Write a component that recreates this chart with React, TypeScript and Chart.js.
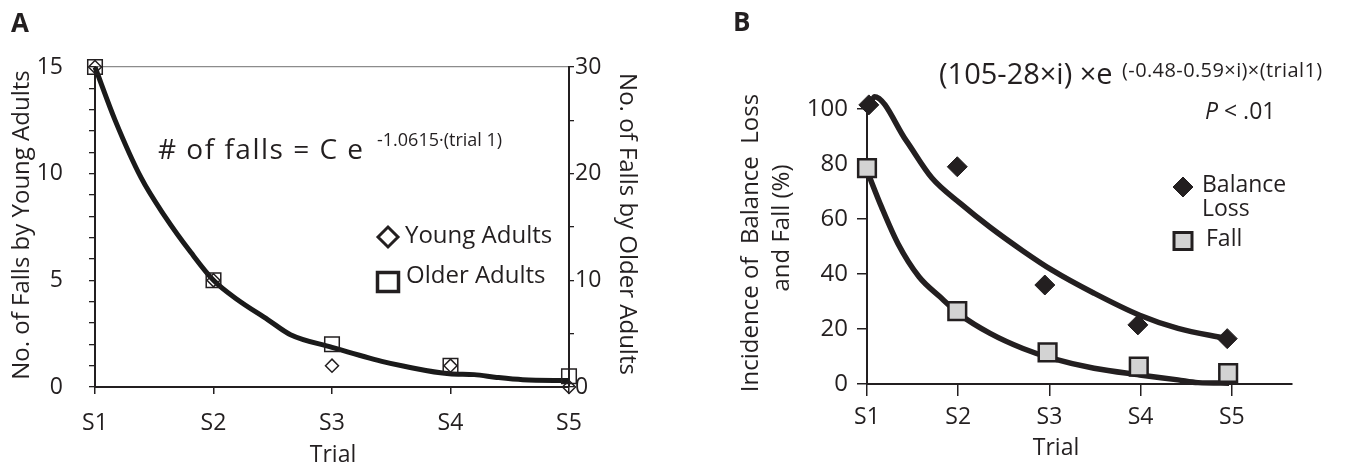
import React, { useEffect, useRef } from "react";
import { Chart, registerables } from "chart.js";
Chart.register(...registerables);

// ---------- data ----------
const trialLabels = ["S1", "S2", "S3", "S4", "S5"];
const trials = [1, 2, 3, 4, 5];

// Panel A
const youngFalls = [15, 5, 1, 1, 0];
const olderFalls = [30, 10, 4, 2, 1];
const fitATrial = [1, 1.17, 1.39, 1.59, 1.81, 2.0, 2.2, 2.46, 2.65, 3.0, 3.42, 3.61, 3.99, 4.2, 4.39, 4.61, 5];
const fitAValue = [15, 12.5, 9.8, 8.0, 6.3, 5.0, 4.1, 3.15, 2.45, 1.86, 1.2, 0.97, 0.62, 0.58, 0.45, 0.34, 0.3];

// Panel B
const balanceTrial = [1.02, 1.99, 2.95, 3.97, 4.95];
const balanceLoss = [101.5, 79, 36, 21.5, 16.5];
const fallTrial = [1.0, 1.99, 2.98, 3.98, 4.96];
const fallPct = [78.5, 26.5, 11.5, 6.3, 4];
const fitBalanceTrial = [1.03, 1.08, 1.43, 1.71, 2.03, 2.35, 2.71, 3.03, 3.49, 3.99, 4.41, 4.93];
const fitBalanceValue = [101, 104.5, 88.5, 75, 65.5, 57, 48.4, 41.4, 33, 25, 20.2, 16.6];
const fitFallTrial = [1, 1.16, 1.34, 1.57, 1.8, 2.03, 2.35, 2.71, 3.03, 3.49, 3.99, 4.41, 4.63, 4.97];
const fitFallValue = [77.6, 64.3, 51, 39, 31.7, 25, 18.4, 12.9, 9.3, 5.7, 3.3, 1.5, 0.5, 0.3];

const INK = "#231f20";
const FONT = "'Open Sans', sans-serif";

const pts = (xs: number[], ys: number[]) => xs.map((x, i) => ({ x, y: ys[i] }));

function text(ctx: CanvasRenderingContext2D, s: string, x: number, y: number, font: string, align: CanvasTextAlign = "left", angle = 0, spacing = 0) {
  ctx.save();
  ctx.translate(x, y);
  ctx.rotate(angle);
  ctx.font = font;
  (ctx as any).letterSpacing = spacing + "px";
  ctx.fillStyle = INK;
  ctx.textAlign = align;
  ctx.textBaseline = "middle";
  ctx.fillText(s, 0, 0);
  ctx.restore();
}

function diamond(ctx: CanvasRenderingContext2D, x: number, y: number, r: number, fill: string | null, lw: number) {
  ctx.save();
  ctx.beginPath();
  ctx.moveTo(x - r, y);
  ctx.lineTo(x, y - r);
  ctx.lineTo(x + r, y);
  ctx.lineTo(x, y + r);
  ctx.closePath();
  if (fill) { ctx.fillStyle = fill; ctx.fill(); }
  ctx.lineWidth = lw;
  ctx.strokeStyle = INK;
  ctx.stroke();
  ctx.restore();
}

function square(ctx: CanvasRenderingContext2D, x: number, y: number, w: number, h: number, fill: string | null, lw: number) {
  ctx.save();
  if (fill) { ctx.fillStyle = fill; ctx.fillRect(x - w / 2, y - h / 2, w, h); }
  ctx.lineWidth = lw;
  ctx.strokeStyle = INK;
  ctx.strokeRect(x - w / 2, y - h / 2, w, h);
  ctx.restore();
}

const OFFB = 676;

const annotA = {
  id: "annotA",
  afterDraw(chart: any) {
    const ctx = chart.ctx as CanvasRenderingContext2D;
    text(ctx, "A", 11, 25, `bold 26px ${FONT}`);
    text(ctx, "No. of Falls by Young Adults", 22, 225, `24px ${FONT}`, "center", -Math.PI / 2);
    text(ctx, "No. of Falls by Older Adults", 627, 224, `24px ${FONT}`, "center", Math.PI / 2);
    text(ctx, "Trial", 333, 455, `23px ${FONT}`, "center");
    text(ctx, "# of falls = C e", 158, 151, `28px ${FONT}`, "left", 0, 1.5);
    text(ctx, "-1.0615·(trial 1)", 377, 141, `18px ${FONT}`, "left");
    // legend
    diamond(ctx, 388, 237, 10, "#fff", 3);
    text(ctx, "Young Adults", 405, 236, `24px ${FONT}`);
    square(ctx, 388, 282, 21, 19, null, 3.5);
    text(ctx, "Older Adults", 406, 276, `24px ${FONT}`);
  },
};

const annotB = {
  id: "annotB",
  afterDraw(chart: any) {
    const ctx = chart.ctx as CanvasRenderingContext2D;
    const o = OFFB;
    text(ctx, "B", 733 - o, 24, `bold 26px ${FONT}`);
    text(ctx, "Incidence of  Balance  Loss", 751 - o, 243, `24px ${FONT}`, "center", -Math.PI / 2);
    text(ctx, "and Fall (%)", 782 - o, 228, `24px ${FONT}`, "center", -Math.PI / 2);
    text(ctx, "Trial", 1056 - o, 448, `23px ${FONT}`, "center");
    text(ctx, "(105-28×i) ×e", 939 - o, 76, `29px ${FONT}`, "left");
    text(ctx, "(-0.48-0.59×i)×(trial1)", 1122 - o, 71, `20px ${FONT}`, "left", 0, 0.4);
    // P < .01
    ctx.save();
    ctx.font = `italic 23px ${FONT}`;
    const pw = ctx.measureText("P").width;
    ctx.restore();
    text(ctx, "P", 1205 - o, 112, `italic 23px ${FONT}`);
    text(ctx, " < .01", 1205 - o + pw, 112, `23px ${FONT}`);
    // legend
    diamond(ctx, 1183 - o, 187, 10, INK, 1);
    text(ctx, "Balance", 1202 - o, 185, `23px ${FONT}`);
    text(ctx, "Loss", 1202 - o, 209, `23px ${FONT}`);
    square(ctx, 1183 - o, 241, 18, 17, "#d3d3d3", 3);
    text(ctx, "Fall", 1206 - o, 239, `23px ${FONT}`);
  },
};

function makeA(canvas: HTMLCanvasElement) {
  return new Chart(canvas, {
    type: "scatter",
    data: {
      datasets: [
        {
          label: "Young Adults",
          data: pts(trials, youngFalls),
          yAxisID: "y",
          pointStyle: "rectRot",
          pointRadius: 6.5,
          backgroundColor: "rgba(255,255,255,0)",
          borderColor: INK,
          borderWidth: 1.5,
          order: 0,
          clip: false as any,
        },
        {
          label: "Older Adults",
          data: pts(trials, olderFalls),
          yAxisID: "y2",
          pointStyle: "rect",
          pointRadius: 10.3,
          backgroundColor: "rgba(255,255,255,0)",
          borderColor: INK,
          borderWidth: 1.5,
          order: 0,
          clip: false as any,
        },
        {
          label: "fit",
          type: "line" as any,
          data: pts(fitATrial, fitAValue),
          yAxisID: "y",
          showLine: true,
          pointRadius: 0,
          borderColor: "#1a1a1a",
          borderWidth: 5,
          cubicInterpolationMode: "monotone",
          fill: false,
          order: 2,
          clip: false as any,
        },
      ],
    },
    options: {
      responsive: false,
      animation: false,
      devicePixelRatio: 1,
      events: [],
      layout: { padding: { top: 67, left: 0, right: 67, bottom: 22 } },
      plugins: { legend: { display: false }, tooltip: { enabled: false } },
      scales: {
        x: {
          type: "linear",
          min: 1,
          max: 5,
          afterBuildTicks: (s: any) => { s.ticks = trials.map((v) => ({ value: v })); },
          afterFit: (s: any) => { s.height = 60; },
          ticks: {
            callback: (v: any) => trialLabels[trials.indexOf(Number(v))] ?? "",
            font: { family: FONT, size: 23 },
            color: INK,
            padding: 16,
            maxRotation: 0,
            autoSkip: false,
          },
          grid: { drawOnChartArea: false, tickLength: 7, color: INK, lineWidth: 1.5 },
          border: { display: true, color: INK, width: 2 },
        },
        y: {
          type: "linear",
          position: "left",
          min: 0,
          max: 15,
          afterFit: (s: any) => { s.width = 95; },
          ticks: {
            stepSize: 1,
            autoSkip: false,
            callback: (v: any) => (Number(v) % 5 === 0 ? String(v) : ""),
            font: { family: FONT, size: 23 },
            color: INK,
            padding: 26,
          },
          grid: {
            drawOnChartArea: true,
            color: (c: any) => (c.tick && c.tick.value === 15 ? "#8c8c8c" : "rgba(0,0,0,0)"),
            tickColor: INK,
            tickLength: 6,
            lineWidth: 1.3,
          },
          border: { display: true, color: INK, width: 2 },
        },
        y2: {
          type: "linear",
          position: "right",
          min: 0,
          max: 30,
          afterFit: (s: any) => { s.width = 40; },
          ticks: {
            stepSize: 5,
            autoSkip: false,
            callback: (v: any) => (Number(v) % 10 === 0 ? String(v) : ""),
            font: { family: FONT, size: 23 },
            color: INK,
            padding: 1,
          },
          grid: { drawOnChartArea: false, tickColor: INK, tickLength: 5, lineWidth: 1.3 },
          border: { display: true, color: INK, width: 2 },
        },
      },
    },
    plugins: [annotA],
  } as any);
}

function makeB(canvas: HTMLCanvasElement) {
  return new Chart(canvas, {
    type: "scatter",
    data: {
      datasets: [
        {
          label: "Balance Loss",
          data: pts(balanceTrial, balanceLoss),
          pointStyle: "rectRot",
          pointRadius: 10,
          backgroundColor: INK,
          borderColor: INK,
          borderWidth: 1,
          order: 0,
          clip: false as any,
        },
        {
          label: "Fall",
          data: pts(fallTrial, fallPct),
          pointStyle: "rect",
          pointRadius: 12.5,
          backgroundColor: "#d3d3d3",
          borderColor: INK,
          borderWidth: 2.5,
          order: 0,
          clip: false as any,
        },
        {
          label: "fit balance",
          type: "line" as any,
          data: pts(fitBalanceTrial, fitBalanceValue),
          showLine: true,
          pointRadius: 0,
          borderColor: INK,
          borderWidth: 5.5,
          cubicInterpolationMode: "monotone",
          fill: false,
          order: 2,
          clip: false as any,
        },
        {
          label: "fit fall",
          type: "line" as any,
          data: pts(fitFallTrial, fitFallValue),
          showLine: true,
          pointRadius: 0,
          borderColor: INK,
          borderWidth: 5.5,
          cubicInterpolationMode: "monotone",
          fill: false,
          order: 2,
          clip: false as any,
        },
      ],
    },
    options: {
      responsive: false,
      animation: false,
      devicePixelRatio: 1,
      events: [],
      layout: { padding: { top: 109, left: 0, right: 60, bottom: 25 } },
      plugins: { legend: { display: false }, tooltip: { enabled: false } },
      scales: {
        x: {
          type: "linear",
          min: 1,
          max: 5.66,
          afterBuildTicks: (s: any) => { s.ticks = trials.map((v) => ({ value: v })); },
          afterFit: (s: any) => { s.height = 60; },
          ticks: {
            callback: (v: any) => trialLabels[trials.indexOf(Number(v))] ?? "",
            font: { family: FONT, size: 23 },
            color: INK,
            padding: 8,
            maxRotation: 0,
            autoSkip: false,
          },
          grid: { drawOnChartArea: false, tickLength: 12, color: INK, lineWidth: 1.5 },
          border: { display: true, color: INK, width: 2 },
        },
        y: {
          type: "linear",
          position: "left",
          min: 0,
          max: 100,
          afterFit: (s: any) => { s.width = 191; },
          ticks: {
            stepSize: 20,
            autoSkip: false,
            font: { family: FONT, size: 24 },
            color: INK,
            padding: 9,
          },
          grid: { drawOnChartArea: false, tickColor: INK, tickLength: 10, lineWidth: 1.5 },
          border: { display: true, color: INK, width: 2 },
        },
      },
    },
    plugins: [annotB],
  } as any);
}

export default function App() {
  const refA = useRef<HTMLCanvasElement>(null);
  const refB = useRef<HTMLCanvasElement>(null);
  useEffect(() => {
    const a = makeA(refA.current!);
    const b = makeB(refB.current!);
    return () => {
      a.destroy();
      b.destroy();
    };
  }, []);
  return (
    <div style={{ position: "fixed", left: 0, top: 0, width: 1352, height: 469, background: "#fff" }}>
      <canvas ref={refA} width={676} height={469} style={{ position: "absolute", left: 0, top: 0, width: 676, height: 469 }} />
      <canvas ref={refB} width={676} height={469} style={{ position: "absolute", left: OFFB, top: 0, width: 676, height: 469 }} />
    </div>
  );
}
